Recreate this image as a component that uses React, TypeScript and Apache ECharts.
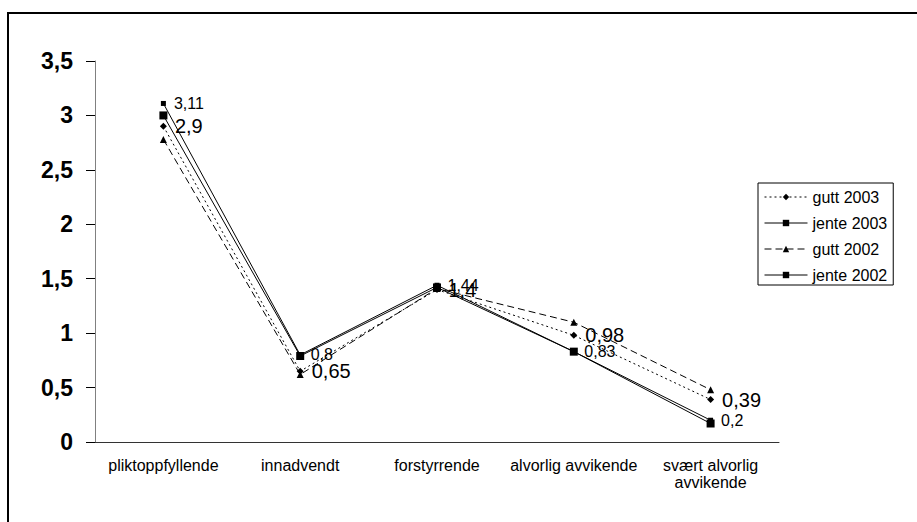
import React, { useEffect, useRef } from "react";
import * as echarts from "echarts";

const categories = [
  "pliktoppfyllende",
  "innadvendt",
  "forstyrrende",
  "alvorlig avvikende",
  "svært alvorlig\navvikende",
];
const gutt2003 = [2.9, 0.65, 1.4, 0.98, 0.39];
const jente2003 = [3.11, 0.8, 1.44, 0.83, 0.2];
const gutt2002 = [2.78, 0.62, 1.41, 1.1, 0.48];
const jente2002 = [3.0, 0.79, 1.42, 0.83, 0.17];

const FONT = "'Liberation Sans', Arial, sans-serif";
const fmt = (v: number) => String(v).replace(".", ",");

export default function App() {
  const ref = useRef<HTMLDivElement>(null);
  useEffect(() => {
    document.body.style.margin = "0";
    const chart = echarts.init(ref.current!, null, { renderer: "svg" });
    chart.setOption({
      animation: false,
      backgroundColor: "#fff",
      textStyle: { fontFamily: FONT },
      graphic: [
        {
          type: "rect",
          shape: { x: 8, y: 13, width: 1000, height: 1000 },
          style: { fill: "none", stroke: "#000", lineWidth: 2 },
          silent: true,
        },
      ],
      grid: { left: 95, top: 61, right: 138, bottom: 80, containLabel: false },
      legend: {
        orient: "vertical",
        left: 758,
        top: 183,
        padding: [6, 6, 2, 6],
        itemWidth: 43,
        itemHeight: 8,
        itemGap: 10,
        borderColor: "#000",
        borderWidth: 1,
        lineStyle: { width: 1 },
        textStyle: { fontFamily: FONT, fontSize: 16, color: "#000", lineHeight: 16 },
        data: ["gutt 2003", "jente 2003", "gutt 2002", "jente 2002"],
      },
      xAxis: {
        type: "category",
        data: categories,
        boundaryGap: true,
        axisLine: { lineStyle: { color: "#333", width: 1 } },
        axisTick: { length: 5, lineStyle: { color: "#333" } },
        axisLabel: {
          fontFamily: FONT,
          fontSize: 16,
          color: "#000",
          margin: 15,
          lineHeight: 17,
          interval: 0,
        },
      },
      yAxis: {
        type: "value",
        min: 0,
        max: 3.5,
        interval: 0.5,
        splitLine: { show: false },
        axisLine: { show: true, lineStyle: { color: "#808080", width: 1 } },
        axisTick: { show: true, length: 9, lineStyle: { color: "#000" } },
        axisLabel: {
          fontFamily: FONT,
          fontSize: 23,
          fontWeight: "bold",
          color: "#000",
          margin: 22,
          formatter: (v: number) => fmt(v),
        },
      },
      series: [
        {
          name: "gutt 2003",
          type: "line",
          data: gutt2003,
          symbol: "diamond",
          symbolSize: 7,
          lineStyle: { color: "#000", width: 1, type: [2, 3] },
          itemStyle: { color: "#000" },
          label: {
            show: true,
            position: "right",
            distance: 8,
            fontFamily: FONT,
            fontSize: 20,
            color: "#000",
            formatter: (p: any) => fmt(p.value),
          },
          z: 2,
        },
        {
          name: "jente 2003",
          type: "line",
          data: jente2003,
          symbol: "rect",
          symbolSize: 5,
          lineStyle: { color: "#000", width: 1, type: "solid" },
          itemStyle: { color: "#000" },
          label: {
            show: true,
            position: "right",
            distance: 8,
            fontFamily: FONT,
            fontSize: 16,
            color: "#000",
            formatter: (p: any) => fmt(p.value),
          },
          z: 3,
        },
        {
          name: "gutt 2002",
          type: "line",
          data: gutt2002,
          symbol: "triangle",
          symbolSize: 7,
          lineStyle: { color: "#000", width: 1, type: [7, 4] },
          itemStyle: { color: "#000" },
          z: 2,
        },
        {
          name: "jente 2002",
          type: "line",
          data: jente2002,
          symbol: "rect",
          symbolSize: 8,
          lineStyle: { color: "#000", width: 1, type: "solid" },
          itemStyle: { color: "#000" },
          z: 4,
        },
      ],
    });
    return () => chart.dispose();
  }, []);
  return (
    <div
      ref={ref}
      style={{ position: "absolute", left: 0, top: 0, width: 917, height: 522 }}
    />
  );
}
